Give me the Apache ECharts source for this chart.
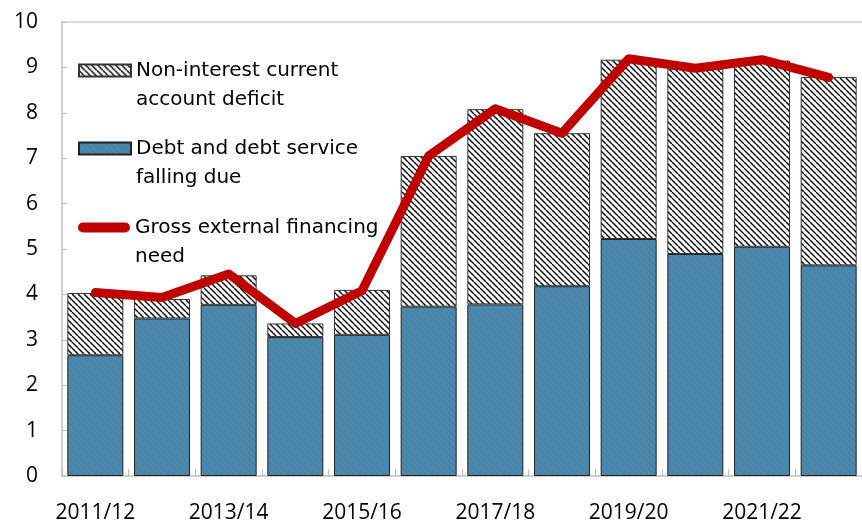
<!DOCTYPE html>
<html>
<head>
<meta charset="utf-8">
<script src="https://cdn.jsdelivr.net/npm/echarts@6/dist/echarts.min.js"></script>
<style>
html,body{margin:0;padding:0;background:#fff;}
#c{width:862px;height:524px;}
</style>
</head>
<body>
<div id="c"></div>
<script>
var categories = ['2011/12','2012/13','2013/14','2014/15','2015/16','2016/17','2017/18','2018/19','2019/20','2020/21','2021/22','2022/23'];
var debtService = [2.66, 3.47, 3.77, 3.06, 3.11, 3.73, 3.78, 4.18, 5.22, 4.89, 5.05, 4.64];
var nonInterestCAD = [1.37, 0.43, 0.65, 0.30, 0.99, 3.32, 4.30, 3.37, 3.95, 4.08, 4.10, 4.15];
var grossNeed = [4.04, 3.93, 4.45, 3.36, 4.08, 7.05, 8.09, 7.55, 9.19, 8.98, 9.17, 8.78];
var yTicks = [0,1,2,3,4,5,6,7,8,9,10];

function hatch(bg, fg, lw) {
  var s = 6, c = document.createElement('canvas');
  c.width = s; c.height = s;
  var g = c.getContext('2d');
  g.fillStyle = bg; g.fillRect(0,0,s,s);
  g.strokeStyle = fg; g.lineWidth = lw;
  for (var k = -s; k <= s; k += s) {
    g.beginPath(); g.moveTo(k, 0); g.lineTo(k + s, s); g.stroke();
  }
  return {image: c, repeat: 'repeat'};
}

var chart = echarts.init(document.getElementById('c'), null, {renderer: 'canvas'});
var legendFont = 'DejaVu Sans';
var names = ['Non-interest current account deficit', 'Debt and debt service falling due', 'Gross external financing need'];
var wrapped = {};
wrapped[names[0]] = 'Non-interest current\naccount deficit';
wrapped[names[1]] = 'Debt and debt service\nfalling due';
wrapped[names[2]] = 'Gross external financing\nneed';

function legendAt(name, top, icon, h) {
  return {
    data: [{name: name, icon: icon}], left: 78, top: top, padding: 0, orient: 'vertical',
    itemWidth: 52, itemHeight: h, selectedMode: false,
    formatter: function (n) { return '\n' + wrapped[n]; },
    textStyle: {fontFamily: legendFont, fontSize: 20, color: '#000', lineHeight: 29}
  };
}

chart.setOption({
  animation: false,
  grid: {left: 62, top: 22, bottom: 47, right: -4},
  legend: [
    legendAt(names[0], 27, 'rect', 12),
    legendAt(names[1], 105, 'rect', 12),
    legendAt(names[2], 184, 'path://M5,0 L47,0 A5,5 0 0 1 47,10 L5,10 A5,5 0 0 1 5,0 Z', 10)
  ],
  xAxis: [{
    type: 'category', data: categories,
    axisLine: {lineStyle: {color: '#BFBFBF', width: 1.5}},
    axisTick: {show: true, inside: true, length: 7, interval: 0, lineStyle: {color: '#BFBFBF'}},
    axisLabel: {interval: 1, fontFamily: 'Open Sans', fontSize: 21, color: '#000', margin: 27}
  }, {
    type: 'category', data: categories, position: 'top',
    axisLine: {lineStyle: {color: '#D0D0D0', width: 1.5}},
    axisTick: {show: false}, axisLabel: {show: false}
  }],
  yAxis: {
    type: 'value', min: 0, max: 10, interval: 1,
    axisLine: {show: true, lineStyle: {color: '#BFBFBF', width: 1.5}},
    axisTick: {show: true, inside: true, length: 5, lineStyle: {color: '#BFBFBF'}},
    splitLine: {show: false},
    axisLabel: {fontFamily: 'Open Sans', fontSize: 21, color: '#000', margin: 24,
      formatter: function (v) { return yTicks.indexOf(v) >= 0 ? String(v) : ''; }}
  },
  series: [{
    name: names[1], type: 'bar', stack: 'a', data: debtService,
    barCategoryGap: '16%',
    itemStyle: {color: hatch('#4B88AC', '#4581A4', 1), borderColor: '#222', borderWidth: 1}
  }, {
    name: names[0], type: 'bar', stack: 'a', data: nonInterestCAD,
    itemStyle: {color: hatch('#ffffff', '#000000', 1.4), borderColor: '#333', borderWidth: 1}
  }, {
    name: names[2], type: 'line', data: grossNeed, symbol: 'none',
    lineStyle: {color: '#C00000', width: 9, cap: 'round', join: 'round'},
    itemStyle: {color: '#C00000'}
  }]
});
</script>
</body>
</html>
